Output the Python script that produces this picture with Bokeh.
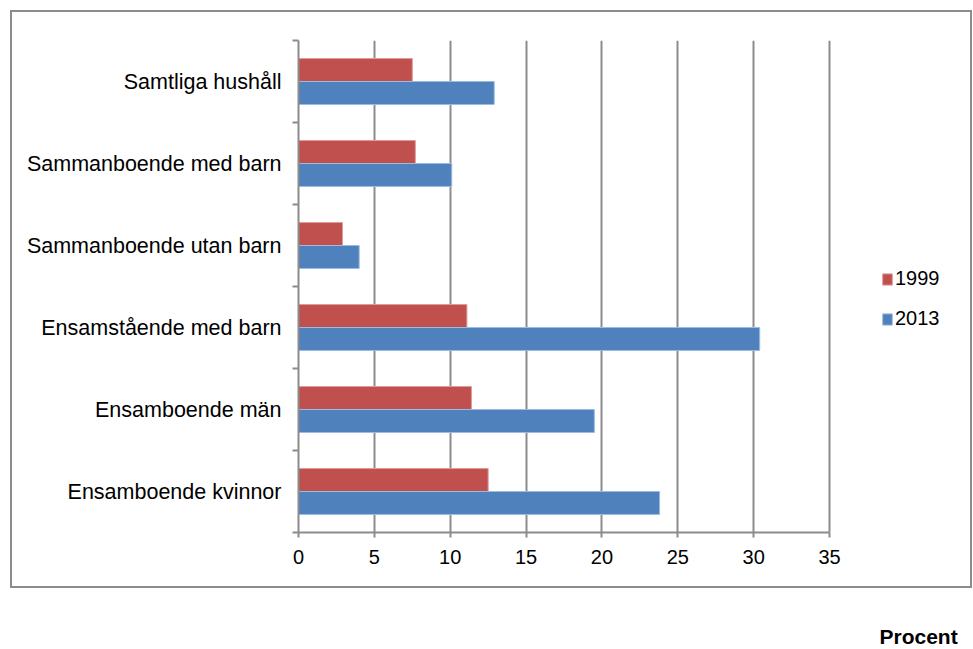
from bokeh.plotting import figure
from bokeh.layouts import column
from bokeh.models import (FixedTicker, Legend, LegendItem, Label, Range1d, InlineStyleSheet)
from bokeh.embed import file_html
from bokeh.resources import INLINE

categories = ["Samtliga hushåll", "Sammanboende med barn", "Sammanboende utan barn",
              "Ensamstående med barn", "Ensamboende män", "Ensamboende kvinnor"]
series_names = ["1999", "2013"]
values_1999 = [7.5, 7.7, 2.9, 11.1, 11.4, 12.5]
values_2013 = [12.9, 10.1, 4.0, 30.4, 19.5, 23.8]
x_ticks = [0, 5, 10, 15, 20, 25, 30, 35]
x_max = 35
unit_text = "Procent"
colors = ["#C0504D", "#4F81BD"]
edge_colors = ["#dd9a98", "#9dbbe0"]

n = len(categories)
centers = [n - 0.5 - i for i in range(n)]
bar_h = 0.28

# layout (pixels)
W, H = 973, 589
left_px, axis_right_px, frame_right_px = 298, 829, 972
top_px, bottom_px = 40, 532
x_end = x_max * (frame_right_px - left_px) / (axis_right_px - left_px)

p = figure(width=W, height=H, output_backend="svg", toolbar_location=None,
           x_range=Range1d(0, x_end), y_range=Range1d(0, n),
           min_border_left=left_px, min_border_right=W - frame_right_px,
           min_border_top=top_px, min_border_bottom=H - bottom_px)
p.outline_line_color = None
p.background_fill_color = "white"
p.border_fill_color = "white"

r1 = p.hbar(y=[c + bar_h / 2 for c in centers], right=values_1999, left=0, height=bar_h,
            fill_color=colors[0], line_color=edge_colors[0], line_width=1)
r2 = p.hbar(y=[c - bar_h / 2 for c in centers], right=values_2013, left=0, height=bar_h,
            fill_color=colors[1], line_color=edge_colors[1], line_width=1)

grid_col = "#8c8c8c"
font = "Liberation Sans"

# x axis
xa = p.xaxis[0]
xa.ticker = FixedTicker(ticks=x_ticks)
xa.bounds = (0, x_max)
xa.axis_line_color = grid_col
xa.axis_line_width = 2
xa.major_tick_line_color = grid_col
xa.major_tick_line_width = 2
xa.major_tick_out = 5
xa.major_tick_in = 0
xa.minor_tick_line_color = None
xa.major_label_text_font = font
xa.major_label_text_font_size = "20px"
xa.major_label_text_color = "black"
xa.major_label_standoff = 12

# y axis
ya = p.yaxis[0]
ya.ticker = FixedTicker(ticks=centers, minor_ticks=list(range(n + 1)))
ya.major_label_overrides = {c: categories[i] for i, c in enumerate(centers)}
ya.axis_line_color = grid_col
ya.axis_line_width = 2
ya.major_tick_line_color = None
ya.major_tick_out = 0
ya.major_tick_in = 0
ya.minor_tick_line_color = grid_col
ya.minor_tick_line_width = 2
ya.minor_tick_out = 6
ya.minor_tick_in = 0
ya.major_label_text_font = font
ya.major_label_text_font_size = "21.5px"
ya.major_label_text_color = "black"
ya.major_label_standoff = 11

p.xgrid.grid_line_color = grid_col
p.xgrid.grid_line_width = 2
p.ygrid.grid_line_color = None

legend = Legend(items=[LegendItem(label=series_names[0], renderers=[r1]),
                       LegendItem(label=series_names[1], renderers=[r2])],
                location=(583, 202), orientation="vertical",
                glyph_width=12, glyph_height=14, label_standoff=2,
                label_height=20, spacing=17, padding=0, margin=0,
                border_line_color=None, background_fill_alpha=0,
                label_text_font=font, label_text_font_size="20px",
                label_text_color="black")
p.add_layout(legend, "center")

p.stylesheets = [InlineStyleSheet(css="""
:host { position: relative; }
:host::after {
  content: "";
  position: absolute;
  left: 10px; top: 10px;
  width: 962px; height: 578px;
  box-sizing: border-box;
  border: 2px solid #8c8c8c;
  pointer-events: none;
  z-index: 100;
}
""")]

# bottom strip with the unit text (frame aligned with the chart frame)
H2 = 60
p2 = figure(width=W, height=H2, output_backend="svg", toolbar_location=None,
            x_range=Range1d(0, frame_right_px - left_px), y_range=Range1d(0, H2),
            x_axis_type=None, y_axis_type=None,
            min_border_left=left_px, min_border_right=W - frame_right_px,
            min_border_top=0, min_border_bottom=0)
p2.outline_line_color = None
p2.grid.visible = False
p2.background_fill_color = "white"
p2.border_fill_color = "white"
p2.add_layout(Label(x=879 - left_px, y=H2 - 47, text=unit_text, text_font=font,
                    text_font_size="21px", text_font_style="bold",
                    text_baseline="middle", text_color="black"))

layout = column(p, p2, spacing=0)
open("out.html", "w").write(file_html(layout, INLINE))
